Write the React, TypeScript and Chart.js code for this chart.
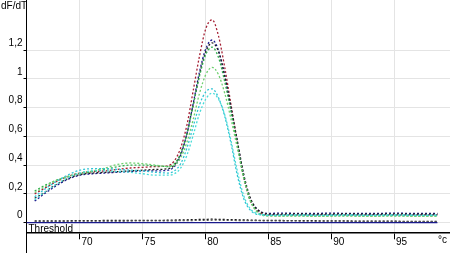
import React, { useEffect, useRef } from "react";
import { Chart, registerables } from "chart.js";

Chart.register(...registerables);

const temps = [66.4, 67, 68, 69, 70, 71, 72, 73, 74, 75, 76, 77, 77.5, 78, 78.5, 79, 79.5, 80, 80.5, 81, 81.5, 82, 82.5, 83, 83.5, 84, 84.5, 85, 86, 87, 88, 89, 90, 91, 92, 93, 94, 95, 96, 97, 98.4];

const redVals = [0.20, 0.23, 0.28, 0.32, 0.345, 0.355, 0.36, 0.37, 0.38, 0.385, 0.39, 0.395, 0.43, 0.52, 0.68, 0.92, 1.16, 1.35, 1.41, 1.30, 1.08, 0.82, 0.56, 0.32, 0.16, 0.09, 0.06, 0.055, 0.056, 0.055, 0.054, 0.055, 0.056, 0.055, 0.054, 0.055, 0.056, 0.055, 0.054, 0.055, 0.055];
const navyVals = [0.15, 0.19, 0.25, 0.30, 0.33, 0.34, 0.345, 0.35, 0.355, 0.36, 0.36, 0.365, 0.39, 0.47, 0.62, 0.83, 1.05, 1.21, 1.27, 1.20, 1.02, 0.79, 0.56, 0.33, 0.17, 0.10, 0.07, 0.065, 0.066, 0.065, 0.064, 0.065, 0.066, 0.065, 0.065, 0.064, 0.065, 0.066, 0.065, 0.064, 0.065];
const blackVals = [0.17, 0.20, 0.26, 0.305, 0.335, 0.345, 0.35, 0.355, 0.36, 0.365, 0.37, 0.375, 0.40, 0.48, 0.62, 0.82, 1.03, 1.19, 1.25, 1.19, 1.02, 0.80, 0.57, 0.34, 0.18, 0.10, 0.07, 0.06, 0.06, 0.061, 0.06, 0.059, 0.06, 0.061, 0.06, 0.059, 0.06, 0.061, 0.06, 0.059, 0.06];
const greenVals = [0.22, 0.25, 0.29, 0.32, 0.34, 0.355, 0.37, 0.39, 0.40, 0.40, 0.395, 0.39, 0.41, 0.48, 0.62, 0.82, 1.02, 1.17, 1.22, 1.15, 0.98, 0.77, 0.54, 0.32, 0.16, 0.085, 0.055, 0.05, 0.048, 0.049, 0.048, 0.047, 0.048, 0.049, 0.048, 0.047, 0.048, 0.049, 0.048, 0.047, 0.048];
const lightGreenVals = [0.21, 0.24, 0.29, 0.32, 0.345, 0.36, 0.38, 0.405, 0.415, 0.41, 0.40, 0.39, 0.40, 0.45, 0.56, 0.72, 0.90, 1.03, 1.08, 1.03, 0.90, 0.72, 0.52, 0.31, 0.16, 0.08, 0.05, 0.045, 0.045, 0.046, 0.045, 0.044, 0.045, 0.046, 0.045, 0.044, 0.045, 0.046, 0.045, 0.044, 0.045];
const cyanVals = [0.18, 0.22, 0.28, 0.33, 0.365, 0.375, 0.375, 0.37, 0.365, 0.36, 0.35, 0.345, 0.36, 0.41, 0.52, 0.67, 0.82, 0.91, 0.93, 0.87, 0.74, 0.55, 0.33, 0.17, 0.09, 0.06, 0.054, 0.053, 0.053, 0.054, 0.053, 0.052, 0.053, 0.054, 0.053, 0.052, 0.053, 0.054, 0.053, 0.052, 0.053];
const turquoiseVals = [0.16, 0.20, 0.26, 0.31, 0.345, 0.36, 0.36, 0.355, 0.35, 0.34, 0.33, 0.33, 0.34, 0.38, 0.47, 0.61, 0.76, 0.86, 0.90, 0.86, 0.75, 0.57, 0.36, 0.19, 0.10, 0.065, 0.055, 0.05, 0.052, 0.053, 0.052, 0.051, 0.052, 0.053, 0.052, 0.051, 0.052, 0.053, 0.052, 0.051, 0.052];
const zeroBlackVals = [0.012, 0.012, 0.013, 0.013, 0.014, 0.014, 0.015, 0.015, 0.015, 0.016, 0.016, 0.017, 0.018, 0.019, 0.02, 0.021, 0.022, 0.023, 0.024, 0.023, 0.022, 0.021, 0.02, 0.019, 0.018, 0.017, 0.016, 0.016, 0.015, 0.014, 0.014, 0.013, 0.012, 0.012, 0.011, 0.011, 0.010, 0.010, 0.009, 0.009, 0.008];
const zeroGrayVals = [0.008, 0.009, 0.009, 0.01, 0.01, 0.011, 0.011, 0.011, 0.012, 0.012, 0.012, 0.013, 0.013, 0.014, 0.014, 0.015, 0.016, 0.016, 0.017, 0.017, 0.016, 0.016, 0.015, 0.015, 0.014, 0.014, 0.013, 0.013, 0.012, 0.012, 0.011, 0.011, 0.01, 0.01, 0.009, 0.009, 0.008, 0.008, 0.007, 0.007, 0.006];

const thresholdTemps = [65.75, 98.4];
const thresholdVals = [0, 0];

const xTicks = [70, 75, 80, 85, 90, 95];
const yTicks = [0, 0.2, 0.4, 0.6, 0.8, 1, 1.2];
const yTickLabels = ["0", "0,2", "0,4", "0,6", "0,8", "1", "1,2"];

const X_MIN = 65.75;
const X_MAX = 99.4;
const Y_MIN = -0.067;
const Y_MAX = 1.548;

const FONT = "Liberation Sans, Arial, sans-serif";

const toPts = (xs: number[], ys: number[]) => xs.map((x, i) => ({ x, y: ys[i] }));

const textPlugin = {
  id: "textPlugin",
  afterDraw(chart: any) {
    const ctx = chart.ctx;
    const area = chart.chartArea;
    ctx.save();
    // y axis extension below the x axis
    ctx.strokeStyle = "#000";
    ctx.lineWidth = 1;
    ctx.beginPath();
    ctx.moveTo(area.left, area.bottom);
    ctx.lineTo(area.left, chart.height);
    ctx.stroke();
    ctx.fillStyle = "#000";
    ctx.font = `10px ${FONT}`;
    ctx.textAlign = "left";
    ctx.textBaseline = "top";
    ctx.fillText("dF/dT", 1, 1);
    ctx.textBaseline = "alphabetic";
    ctx.fillText("Threshold", area.left + 2, area.bottom - 0.5);
    ctx.textBaseline = "top";
    ctx.fillText("°c", 438, 235);
    ctx.restore();
  },
};

const dashed = (label: string, vals: number[], color: string) => ({
  label,
  data: toPts(temps, vals),
  borderColor: color,
  backgroundColor: color,
  borderWidth: 1.3,
  borderDash: [2, 2],
  pointRadius: 0,
  cubicInterpolationMode: "monotone" as const,
  fill: false,
});

export default function App() {
  const ref = useRef<HTMLCanvasElement | null>(null);
  useEffect(() => {
    document.body.style.margin = "0";
    const canvas = ref.current;
    if (!canvas) return;
    const chart = new Chart(canvas, {
      type: "line",
      data: {
        datasets: [
          {
            label: "Threshold",
            data: toPts(thresholdTemps, thresholdVals),
            borderColor: "#1a1a8c",
            borderWidth: 1.2,
            pointRadius: 0,
            fill: false,
          },
          dashed("zeroGray", zeroGrayVals, "#555555"),
          dashed("zeroBlack", zeroBlackVals, "#111111"),
          dashed("turquoise", turquoiseVals, "#48dcd8"),
          dashed("cyan", cyanVals, "#2fc4d4"),
          dashed("lightGreen", lightGreenVals, "#6fd06f"),
          dashed("green", greenVals, "#2fae4e"),
          dashed("black", blackVals, "#1e1e1e"),
          dashed("navy", navyVals, "#1c1c8e"),
          dashed("red", redVals, "#a52034"),
        ],
      },
      options: {
        animation: false,
        responsive: false,
        devicePixelRatio: 1,
        layout: { padding: 0 },
        plugins: { legend: { display: false }, tooltip: { enabled: false } },
        scales: {
          x: {
            type: "linear",
            min: X_MIN,
            max: X_MAX,
            afterBuildTicks: (s: any) => {
              s.ticks = xTicks.map((v) => ({ value: v }));
            },
            afterFit: (s: any) => {
              s.height = 20.7;
              s.paddingLeft = 0;
              s.paddingRight = 0;
            },
            grid: { color: "#e4e4e4", tickColor: "#000", tickLength: 7, lineWidth: 1 },
            border: { color: "#000", width: 1.5 },
            ticks: {
              font: { size: 10, family: FONT },
              color: "#000",
              labelOffset: 7,
              padding: -3,
              maxRotation: 0,
              autoSkip: false,
              callback: (v: any) => String(v),
            },
          },
          y: {
            type: "linear",
            min: Y_MIN,
            max: Y_MAX,
            afterBuildTicks: (s: any) => {
              s.ticks = yTicks.map((v) => ({ value: v }));
            },
            afterFit: (s: any) => {
              s.width = 26.5;
              s.paddingTop = 0;
              s.paddingBottom = 0;
            },
            grid: { color: "#e4e4e4", tickColor: "#000", tickLength: 3, lineWidth: 1 },
            border: { color: "#000", width: 1 },
            ticks: {
              font: { size: 10, family: FONT },
              color: "#000",
              labelOffset: -7,
              padding: 1,
              autoSkip: false,
              callback: (v: any) => {
                const i = yTicks.findIndex((t) => Math.abs(t - Number(v)) < 1e-6);
                return i >= 0 ? yTickLabels[i] : "";
              },
            },
          },
        },
      },
      plugins: [textPlugin],
    });
    return () => chart.destroy();
  }, []);
  return <canvas ref={ref} width={450} height={253} style={{ display: "block" }} />;
}
